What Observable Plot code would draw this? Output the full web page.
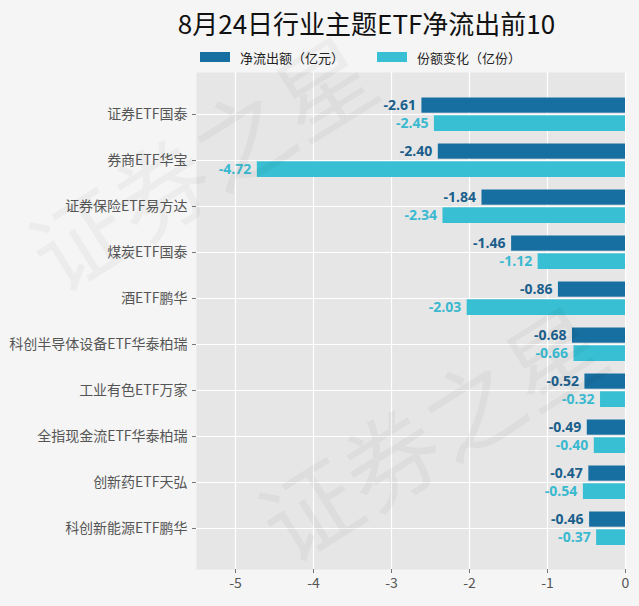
<!DOCTYPE html>
<html><head><meta charset="utf-8">
<script src="https://cdn.jsdelivr.net/npm/d3@7"></script>
<script src="https://cdn.jsdelivr.net/npm/@observablehq/plot@0.6"></script>
<style>
body{margin:0;background:#f5f5f5;font-family:"Open Sans","Noto Sans CJK SC",sans-serif;width:639px;height:606px;overflow:hidden;position:relative}
#title{height:44px;line-height:46px;text-align:center;font-size:26px;color:#111;padding-left:94px;box-sizing:border-box;font-family:"Noto Sans CJK SC","Open Sans",sans-serif}
#legend{height:26px;display:flex;align-items:center;padding-left:200px;font-size:13px;color:#222;font-family:"Noto Sans CJK SC",sans-serif}
.sw{width:30px;height:10px;display:inline-block;margin-right:10px}
.item{display:flex;align-items:center;margin-right:33px}
.wm{position:absolute;width:400px;height:100px;line-height:100px;font-size:96px;color:rgba(0,0,0,0.035);transform:rotate(-32deg);white-space:nowrap;pointer-events:none;font-family:"Noto Sans CJK SC",sans-serif;z-index:5;text-align:center}
</style></head>
<body>
<div id="title">8月24日行业主题ETF净流出前10</div>
<div id="legend"></div>
<div id="chart"></div>
<div class="wm" style="left:0px;top:110px">证券之星</div>
<div class="wm" style="left:230px;top:380px">证券之星</div>
<script>
const categories = ["证券ETF国泰","券商ETF华宝","证券保险ETF易方达","煤炭ETF国泰","酒ETF鹏华","科创半导体设备ETF华泰柏瑞","工业有色ETF万家","全指现金流ETF华泰柏瑞","创新药ETF天弘","科创新能源ETF鹏华"];
const netOutflow = [-2.61,-2.40,-1.84,-1.46,-0.86,-0.68,-0.52,-0.49,-0.47,-0.46];
const shareChange = [-2.45,-4.72,-2.34,-1.12,-2.03,-0.66,-0.32,-0.40,-0.54,-0.37];
const seriesNames = ["净流出额（亿元）","份额变化（亿份）"];
const xTicks = [-5,-4,-3,-2,-1,0];
const colors = ["#176ea0","#38bfd3"];
const labelColors = ["#1b5f8c","#3ab9d0"];

const leg = document.getElementById("legend");
seriesNames.forEach((n,i)=>{
  const d=document.createElement("div");d.className="item";
  d.innerHTML=`<span class="sw" style="background:${colors[i]}"></span><span>${n}</span>`;
  leg.appendChild(d);
});

const a = categories.map((c,i)=>({cat:c,v:netOutflow[i]}));
const b = categories.map((c,i)=>({cat:c,v:shareChange[i]}));
const fmt = v => v.toFixed(2);

const chart = Plot.plot({
  width:639, height:536,
  marginTop:2, marginBottom:37, marginLeft:196, marginRight:14,
  style:{background:"transparent",fontFamily:"'Noto Sans CJK SC','Open Sans',sans-serif",fontSize:"13px",color:"#555"},
  x:{domain:[-5.5,0],ticks:xTicks,label:null},
  y:{domain:categories,paddingInner:0,paddingOuter:0.32,label:null},
  marks:[
    Plot.frame({fill:"#e6e6e6",stroke:null}),
    Plot.gridX(xTicks,{stroke:"#fff",strokeOpacity:1,strokeWidth:1.2}),
    Plot.gridY(categories,{stroke:"#fff",strokeOpacity:1,strokeWidth:1.2}),
    Plot.axisX({ticks:xTicks,tickFormat:d=>String(d),tickSize:4,stroke:"#777",fill:"#555",fontSize:14,tickPadding:5,label:null}),
    Plot.axisY({tickSize:4,stroke:"#777",fill:"#555",fontSize:14,tickPadding:5,label:null}),
    Plot.barX(a,{x:"v",y:"cat",fill:colors[0],insetTop:6.5,insetBottom:24.3}),
    Plot.barX(b,{x:"v",y:"cat",fill:colors[1],insetTop:24.3,insetBottom:6}),
    Plot.text(a,{x:"v",y:"cat",text:d=>fmt(d.v),textAnchor:"end",dx:-6,dy:-9,fill:labelColors[0],fontWeight:"bold",fontSize:14,fontFamily:"'Open Sans',sans-serif"}),
    Plot.text(b,{x:"v",y:"cat",text:d=>fmt(d.v),textAnchor:"end",dx:-6,dy:9.5,fill:labelColors[1],fontWeight:"bold",fontSize:14,fontFamily:"'Open Sans',sans-serif"})
  ]
});
document.getElementById("chart").appendChild(chart);
</script>
</body></html>
